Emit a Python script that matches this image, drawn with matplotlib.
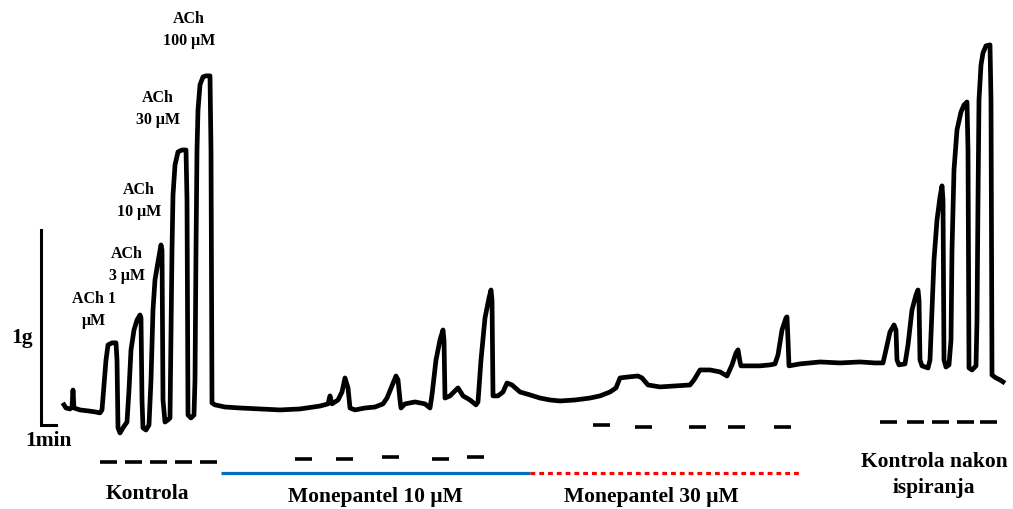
import matplotlib
matplotlib.use("Agg")
import matplotlib.pyplot as plt

# isometric tension trace: time (s) vs tension (g)
time_s = [0, 8, 24, 32, 36, 40, 64, 96, 124, 144, 152, 160, 168, 176, 192, 208, 212, 216, 224, 236,
          252, 260, 268, 280, 292, 304, 308, 312, 316, 328, 340, 348, 356, 364, 376, 388, 392, 396, 404, 416,
          424, 428, 432, 436, 444, 456, 472, 488, 492, 496, 508, 520, 524, 528, 532, 536, 544, 556, 568, 584,
          588, 592, 604, 644, 704, 784, 864, 944, 1024, 1056, 1064, 1072, 1096, 1112, 1124, 1136, 1144, 1164, 1204, 1244,
          1276, 1292, 1312, 1328, 1336, 1344, 1348, 1364, 1404, 1444, 1464, 1472, 1488, 1504, 1516, 1520, 1524, 1544, 1576, 1596,
          1624, 1648, 1656, 1668, 1684, 1700, 1708, 1712, 1716, 1736, 1756, 1772, 1792, 1824, 1864, 1904, 1944, 1984, 2044, 2104,
          2144, 2184, 2208, 2224, 2256, 2296, 2312, 2336, 2384, 2444, 2504, 2520, 2544, 2584, 2624, 2652, 2672, 2688, 2696, 2704,
          2708, 2744, 2784, 2824, 2844, 2856, 2872, 2888, 2892, 2896, 2900, 2944, 3024, 3104, 3184, 3244, 3276, 3288, 3304, 3320,
          3328, 3332, 3340, 3364, 3376, 3392, 3408, 3416, 3420, 3424, 3432, 3456, 3464, 3472, 3480, 3492, 3504, 3512, 3516, 3520,
          3528, 3540, 3548, 3552, 3560, 3572, 3588, 3600, 3612, 3616, 3620, 3632, 3648, 3652, 3656, 3660, 3668, 3676, 3688, 3704,
          3708, 3712, 3728, 3744, 3756]
tension_g = [0.103, 0.087, 0.082, 0.092, 0.179, 0.087, 0.077, 0.072, 0.067, 0.062, 0.077, 0.205, 0.333, 0.410, 0.421, 0.421, 0.333, -0.015, -0.041, -0.015,
             0.015, 0.179, 0.385, 0.487, 0.538, 0.564, 0.549, 0.128, -0.015, -0.026, 0.000, 0.231, 0.590, 0.744, 0.836, 0.923, 0.897, 0.128, 0.015, 0.026,
             0.036, 0.487, 0.897, 1.179, 1.333, 1.400, 1.410, 1.410, 1.154, 0.051, 0.036, 0.051, 0.231, 0.897, 1.410, 1.615, 1.744, 1.785, 1.790, 1.790,
             1.410, 0.113, 0.103, 0.092, 0.087, 0.082, 0.077, 0.082, 0.097, 0.108, 0.149, 0.108, 0.128, 0.169, 0.241, 0.190, 0.087, 0.077, 0.087, 0.092,
             0.108, 0.138, 0.200, 0.251, 0.231, 0.128, 0.087, 0.108, 0.118, 0.108, 0.087, 0.154, 0.333, 0.436, 0.487, 0.436, 0.138, 0.149, 0.190, 0.149,
             0.128, 0.103, 0.118, 0.333, 0.549, 0.651, 0.692, 0.641, 0.149, 0.149, 0.169, 0.215, 0.205, 0.169, 0.154, 0.138, 0.128, 0.123, 0.128, 0.138,
             0.149, 0.169, 0.190, 0.241, 0.246, 0.251, 0.241, 0.205, 0.195, 0.200, 0.205, 0.231, 0.282, 0.282, 0.272, 0.251, 0.308, 0.369, 0.385, 0.323,
             0.303, 0.303, 0.303, 0.308, 0.313, 0.359, 0.487, 0.549, 0.554, 0.436, 0.303, 0.313, 0.323, 0.318, 0.323, 0.318, 0.318, 0.385, 0.477, 0.513,
             0.487, 0.333, 0.308, 0.313, 0.410, 0.590, 0.667, 0.692, 0.641, 0.333, 0.303, 0.292, 0.333, 0.590, 0.846, 1.051, 1.169, 1.226, 1.154, 0.333,
             0.297, 0.308, 0.436, 0.897, 1.308, 1.513, 1.605, 1.641, 1.656, 1.410, 0.292, 0.282, 0.303, 0.538, 1.154, 1.667, 1.846, 1.908, 1.944, 1.949,
             1.667, 0.256, 0.241, 0.231, 0.221]

# drug application marks: start time (s) and level (g), each 68 s long
ctrl_starts = [144, 244, 344, 444, 544]
ctrl_level = [-0.19] * 5
mon10_starts = [924, 1088, 1272, 1472, 1612]
mon10_level = [-0.174, -0.174, -0.164, -0.174, -0.164]
mon30_starts = [2116, 2284, 2500, 2656, 2840]
mon30_level = [0.0, -0.01, -0.01, -0.01, -0.01]
wash_starts = [3264, 3372, 3472, 3572, 3664]
wash_level = [0.015] * 5
mark_len = 68

mon10_span = [628, 1864]
mon30_span = [1864, 2944]
span_level = -0.246

ach_labels = ["ACh 1\nμM", "ACh\n3 μM", "ACh\n10 μM", "ACh\n30 μM", "ACh\n100 μM"]
ach_pos = [(94, 310), (127, 265), (139, 201), (158, 109), (189, 30)]

W, H = 1013, 509
fig = plt.figure(figsize=(W / 100, H / 100), dpi=100)
ax = fig.add_axes([0, 0, 1, 1])
ax.set_xlim(-256, 3796)
ax.set_ylim(-0.431, 2.179)
ax.axis("off")

ax.plot(time_s, tension_g, color="black", lw=3.4, solid_joinstyle="round")

# scale bar: 1 g, 1 min
ax.plot([-92, -92, -32], [1.0, 0.0, 0.0], color="black", lw=2.2, solid_joinstyle="miter")

for starts, levels in [(ctrl_starts, ctrl_level), (mon10_starts, mon10_level),
                       (mon30_starts, mon30_level), (wash_starts, wash_level)]:
    for s, lv in zip(starts, levels):
        ax.plot([s, s + mark_len], [lv, lv], color="black", lw=2.6, solid_capstyle="butt")

ax.plot(mon10_span, [span_level] * 2, color="#0070C0", lw=2.3, solid_capstyle="butt")
ax.plot(mon30_span, [span_level] * 2, color="#FF0000", lw=2.3,
        linestyle=(0, (1.5, 1.25)), dash_capstyle="butt")

font = dict(family="Liberation Serif", weight="bold")


def put(x, y, s, size, **kw):
    fig.text(x / W, 1 - y / H, s, ha="center", va="center", fontsize=size, **font, **kw)


for lab, (x, y) in zip(ach_labels, ach_pos):
    put(x, y, lab, 11.5, linespacing=1.45)

put(22, 338, "1g", 15.5)
put(48, 441, "1min", 15.5)
put(147, 494, "Kontrola", 15.5)
put(375, 497, "Monepantel 10 μM", 15.5)
put(651, 497, "Monepantel 30 μM", 15.5)
put(934, 475, "Kontrola nakon\nispiranja", 15.5, linespacing=1.4)

fig.savefig("out.png", dpi=100)
